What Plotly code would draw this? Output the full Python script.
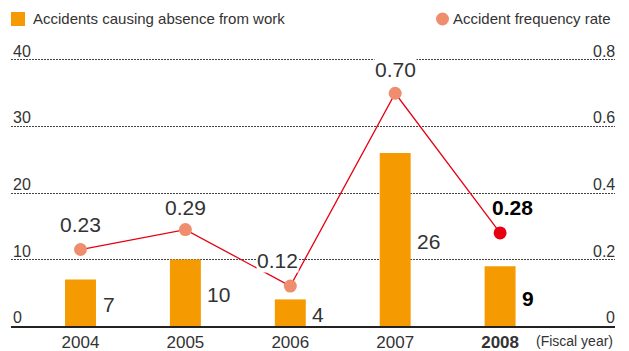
import plotly.graph_objects as go

years = ["2004", "2005", "2006", "2007", "2008"]
year_labels = ["2004", "2005", "2006", "2007", "<b>2008</b>"]
accidents = [7, 10, 4, 26, 9]
freq_rate = [0.23, 0.29, 0.12, 0.70, 0.28]
acc_text = ["7", "10", "4", "26", "<b>9</b>"]
rate_text = ["0.23", "0.29", "0.12", "0.70", "<b>0.28</b>"]
left_ticks = [0, 10, 20, 30, 40]
left_tick_text = ["0", "10", "20", "30", "40"]
right_ticks = [0, 0.2, 0.4, 0.6, 0.8]
right_tick_text = ["0", "0.2", "0.4", "0.6", "0.8"]

ORANGE = "#F59A00"
SALMON = "#EF8E6E"
RED = "#E60012"
TXT = "#333333"
FONT = "Liberation Sans, Arial, sans-serif"

marker_colors = [SALMON, SALMON, SALMON, SALMON, RED]
rate_shift = [(0, 25), (0, 22), (-13, 26), (0, 24), (12, 25)]

# pixel geometry of the plot area
W, H = 629, 351
L, R = 11, 615
TOP40, B = 60, 326
unit = (B - TOP40) / 40.0
YMAX = 40.6
T = B - YMAX * unit
PW, PH = R - L, B - T


def px(p):
    return (p - L) / PW


def py(p):
    return (B - p) / PH


fig = go.Figure()
idx = list(range(len(years)))
fig.add_trace(go.Bar(x=idx, y=accidents, marker_color=ORANGE, width=0.295,
                     showlegend=False, yaxis="y"))
fig.add_trace(go.Scatter(x=idx, y=freq_rate, mode="lines+markers", yaxis="y2",
                         line=dict(color=RED, width=1.3),
                         marker=dict(size=13, color=marker_colors),
                         showlegend=False))

ann = []
for i in idx:
    bold = i == 4
    ann.append(dict(x=i, y=accidents[i] / 2, xref="x", yref="y", text=acc_text[i],
                    showarrow=False, xanchor="left", yanchor="middle", xshift=20, yshift=-2,
                    font=dict(size=21, color="#000" if bold else TXT, family=FONT)))
    dx, dy = rate_shift[i]
    ann.append(dict(x=i, y=freq_rate[i], xref="x", yref="y2", text=rate_text[i],
                    showarrow=False, xanchor="center", yanchor="middle",
                    xshift=dx, yshift=dy, bgcolor="white", borderpad=0,
                    font=dict(size=21, color="#000" if bold else TXT, family=FONT)))

# axis tick labels (sit on top of the dotted lines)
for v, t in zip(left_ticks, left_tick_text):
    ann.append(dict(x=0, y=v, xref="paper", yref="y", text=t, showarrow=False,
                    xanchor="left", yanchor="bottom", yshift=-2, xshift=0,
                    font=dict(size=16, color=TXT, family=FONT)))
for v, t in zip(right_ticks, right_tick_text):
    ann.append(dict(x=1, y=v, xref="paper", yref="y2", text=t, showarrow=False,
                    xanchor="right", yanchor="bottom", yshift=-2, xshift=2,
                    font=dict(size=16, color=TXT, family=FONT)))

# legend
ann.append(dict(x=px(31), y=py(19), xref="paper", yref="paper",
                text="Accidents causing absence from work",
                showarrow=False, xanchor="left", yanchor="middle",
                font=dict(size=15, color=TXT, family=FONT)))
ann.append(dict(x=px(451), y=py(19), xref="paper", yref="paper",
                text="Accident frequency rate",
                showarrow=False, xanchor="left", yanchor="middle",
                font=dict(size=15, color=TXT, family=FONT)))
ann.append(dict(x=px(615), y=py(341), xref="paper", yref="paper", text="(Fiscal year)",
                showarrow=False, xanchor="right", yanchor="middle",
                font=dict(size=14, color=TXT, family=FONT)))

shapes = [
    dict(type="rect", xref="paper", yref="paper",
         x0=px(11), x1=px(25), y0=py(26), y1=py(12),
         fillcolor=ORANGE, line=dict(width=0)),
    dict(type="circle", xref="paper", yref="paper",
         x0=px(436), x1=px(449), y0=py(25.5), y1=py(12.5),
         fillcolor=SALMON, line=dict(width=0)),
]

x0 = (L - 80.5) / 104.9
x1 = (R - 80.5) / 104.9

fig.update_layout(
    template="none",
    width=W, height=H,
    margin=dict(l=L, r=W - R, t=T, b=H - B, pad=0, autoexpand=False),
    paper_bgcolor="white", plot_bgcolor="white",
    font=dict(family=FONT, color=TXT),
    annotations=ann, shapes=shapes,
    xaxis=dict(range=[x0, x1], tickvals=idx, ticktext=year_labels,
               showgrid=False, showline=True, linecolor="#222", linewidth=1.5,
               ticks="", tickfont=dict(size=17, color=TXT, family=FONT),
               zeroline=False, automargin=False),
    yaxis=dict(range=[0, YMAX], tickvals=left_ticks, showticklabels=False,
               showgrid=True, gridcolor="#444", griddash="1.5px,1.5px", gridwidth=1.2,
               zeroline=False, showline=False, ticks="", automargin=False),
    yaxis2=dict(range=[0, YMAX * 0.02], overlaying="y", side="right",
                showticklabels=False, showgrid=False, zeroline=False,
                showline=False, ticks="", automargin=False),
)

fig.write_html("out.html")
